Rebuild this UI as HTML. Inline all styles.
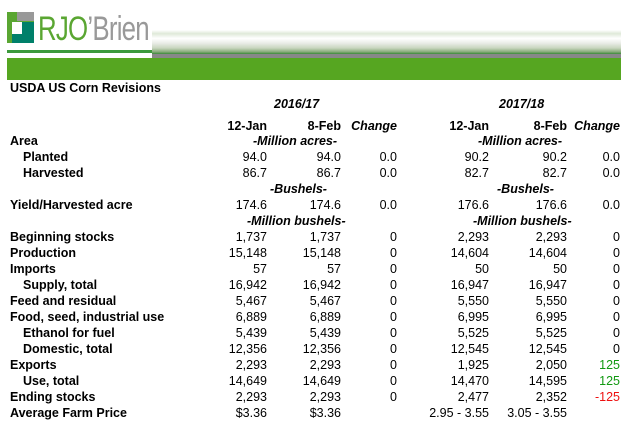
<!DOCTYPE html>
<html><head><style>
body{margin:0;width:630px;height:430px;background:#fff;position:relative;overflow:hidden;font-family:"Liberation Sans",Arial,sans-serif;font-size:12.5px;color:#000}
.r{position:absolute;left:0;width:630px;height:16px;line-height:16px;font-weight:bold}
.r span{position:absolute;white-space:nowrap}
.l{left:10px}.li{left:23px}
.n{font-weight:normal}
.c1{right:363px}.c2{right:289px}.c3{right:233px}.c4{right:141px}.c5{right:63px}.c6{right:10px}
.it{font-style:italic}
</style></head><body>
<div style="position:absolute;left:152px;top:30px;width:469px;height:24px;background:linear-gradient(#fff,#dfe9d9 15%,#fff 35%,#e9ece6 55%,#c8d6bf 75%,#8fae80 90%,#3b8a3b)"></div>
<div style="position:absolute;left:152px;top:54px;width:469px;height:4px;background:#888"></div>
<div style="position:absolute;left:7px;top:12px;width:27px;height:31px;background:#5aa632"></div>
<div style="position:absolute;left:17px;top:12px;width:17px;height:9px;background:#999"></div>
<div style="position:absolute;left:12px;top:22px;width:22px;height:21px;background:#00806a"></div>
<div style="position:absolute;left:12px;top:22px;width:10px;height:12px;background:#fff"></div>
<div style="position:absolute;left:38px;top:12px;font-size:34px;line-height:34px;font-weight:normal;color:#5aa632;letter-spacing:-1px;transform:scaleX(0.76);transform-origin:0 0;white-space:nowrap">RJO<span style="color:#999">’Brien</span></div>
<div style="position:absolute;left:7px;top:50px;width:145px;height:3px;background:#3c9a3c"></div>
<div style="position:absolute;left:7px;top:58px;width:614px;height:22px;background:#56a621"></div>

<div class="r" style="top:80px"><span class="l">USDA US Corn Revisions</span></div>
<div class="r it" style="top:96px"><span style="left:274px">2016/17</span><span style="left:499px">2017/18</span></div>
<div class="r" style="top:118px"><span class="c1">12-Jan</span><span class="c2">8-Feb</span><span class="c3 it">Change</span><span class="c4">12-Jan</span><span class="c5">8-Feb</span><span class="c6 it">Change</span></div>
<div class="r" style="top:133px"><span class="l">Area</span><span class="it" style="left:253px">-Million acres-</span><span class="it" style="left:478px">-Million acres-</span></div>
<div class="r" style="top:149px"><span class="li">Planted</span><span class="n c1">94.0</span><span class="n c2">94.0</span><span class="n c3">0.0</span><span class="n c4">90.2</span><span class="n c5">90.2</span><span class="n c6">0.0</span></div>
<div class="r" style="top:165px"><span class="li">Harvested</span><span class="n c1">86.7</span><span class="n c2">86.7</span><span class="n c3">0.0</span><span class="n c4">82.7</span><span class="n c5">82.7</span><span class="n c6">0.0</span></div>
<div class="r" style="top:181px"><span class="it" style="left:270px">-Bushels-</span><span class="it" style="left:497px">-Bushels-</span></div>
<div class="r" style="top:197px"><span class="l">Yield/Harvested acre</span><span class="n c1">174.6</span><span class="n c2">174.6</span><span class="n c3">0.0</span><span class="n c4">176.6</span><span class="n c5">176.6</span><span class="n c6">0.0</span></div>
<div class="r" style="top:213px"><span class="it" style="left:247px">-Million bushels-</span><span class="it" style="left:473px">-Million bushels-</span></div>
<div class="r" style="top:229px"><span class="l">Beginning stocks</span><span class="n c1">1,737</span><span class="n c2">1,737</span><span class="n c3">0</span><span class="n c4">2,293</span><span class="n c5">2,293</span><span class="n c6">0</span></div>
<div class="r" style="top:245px"><span class="l">Production</span><span class="n c1">15,148</span><span class="n c2">15,148</span><span class="n c3">0</span><span class="n c4">14,604</span><span class="n c5">14,604</span><span class="n c6">0</span></div>
<div class="r" style="top:261px"><span class="l">Imports</span><span class="n c1">57</span><span class="n c2">57</span><span class="n c3">0</span><span class="n c4">50</span><span class="n c5">50</span><span class="n c6">0</span></div>
<div class="r" style="top:277px"><span class="li">Supply, total</span><span class="n c1">16,942</span><span class="n c2">16,942</span><span class="n c3">0</span><span class="n c4">16,947</span><span class="n c5">16,947</span><span class="n c6">0</span></div>
<div class="r" style="top:293px"><span class="l">Feed and residual</span><span class="n c1">5,467</span><span class="n c2">5,467</span><span class="n c3">0</span><span class="n c4">5,550</span><span class="n c5">5,550</span><span class="n c6">0</span></div>
<div class="r" style="top:309px"><span class="l">Food, seed, industrial use</span><span class="n c1">6,889</span><span class="n c2">6,889</span><span class="n c3">0</span><span class="n c4">6,995</span><span class="n c5">6,995</span><span class="n c6">0</span></div>
<div class="r" style="top:325px"><span class="li">Ethanol for fuel</span><span class="n c1">5,439</span><span class="n c2">5,439</span><span class="n c3">0</span><span class="n c4">5,525</span><span class="n c5">5,525</span><span class="n c6">0</span></div>
<div class="r" style="top:341px"><span class="li">Domestic, total</span><span class="n c1">12,356</span><span class="n c2">12,356</span><span class="n c3">0</span><span class="n c4">12,545</span><span class="n c5">12,545</span><span class="n c6">0</span></div>
<div class="r" style="top:357px"><span class="l">Exports</span><span class="n c1">2,293</span><span class="n c2">2,293</span><span class="n c3">0</span><span class="n c4">1,925</span><span class="n c5">2,050</span><span class="n c6" style="color:#119911">125</span></div>
<div class="r" style="top:373px"><span class="li">Use, total</span><span class="n c1">14,649</span><span class="n c2">14,649</span><span class="n c3">0</span><span class="n c4">14,470</span><span class="n c5">14,595</span><span class="n c6" style="color:#119911">125</span></div>
<div class="r" style="top:389px"><span class="l">Ending stocks</span><span class="n c1">2,293</span><span class="n c2">2,293</span><span class="n c3">0</span><span class="n c4">2,477</span><span class="n c5">2,352</span><span class="n c6" style="color:#ee1111">-125</span></div>
<div class="r" style="top:405px"><span class="l">Average Farm Price</span><span class="n c1">$3.36</span><span class="n c2">$3.36</span><span class="n c4">2.95 - 3.55</span><span class="n c5">3.05 - 3.55</span></div>
</body></html>
